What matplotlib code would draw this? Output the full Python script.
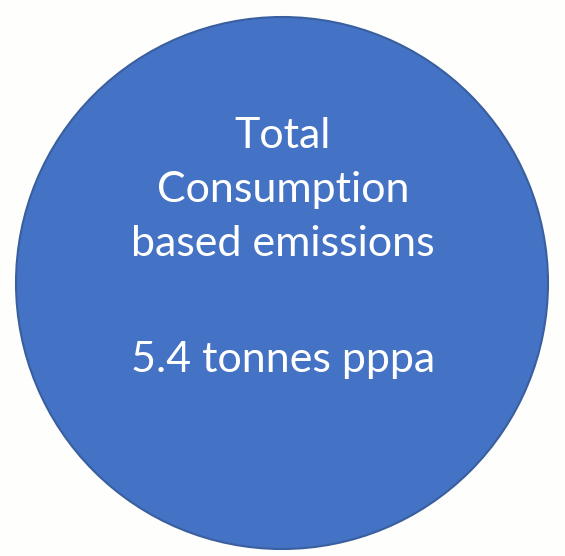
import matplotlib.pyplot as plt
from matplotlib.patches import Circle

# text content of the bubble
title_lines = ["Total", "Consumption", "based emissions"]
emissions_value = 5.4
emissions_unit = "tonnes pppa"

fig = plt.figure(figsize=(5.65, 5.56), dpi=100)
fig.patch.set_facecolor("#fefefd")
ax = fig.add_axes([0, 0, 1, 1])
ax.set_xlim(0, 565)
ax.set_ylim(556, 0)
ax.set_aspect("equal")
ax.axis("off")

# the big blue disc
ax.add_patch(Circle((282, 283), 266, facecolor="#4472c4", edgecolor="#3a5f9f", linewidth=1.5))

font = dict(family=["Lato", "DejaVu Sans"], color="white", fontsize=31, ha="center", va="baseline")

# heading lines, one below the other
y = 148
for line in title_lines:
    ax.text(283, y, line, **font)
    y += 54

ax.text(283, 372, f"{emissions_value} {emissions_unit}", **font)

fig.savefig("out.png", dpi=100, facecolor=fig.get_facecolor())
